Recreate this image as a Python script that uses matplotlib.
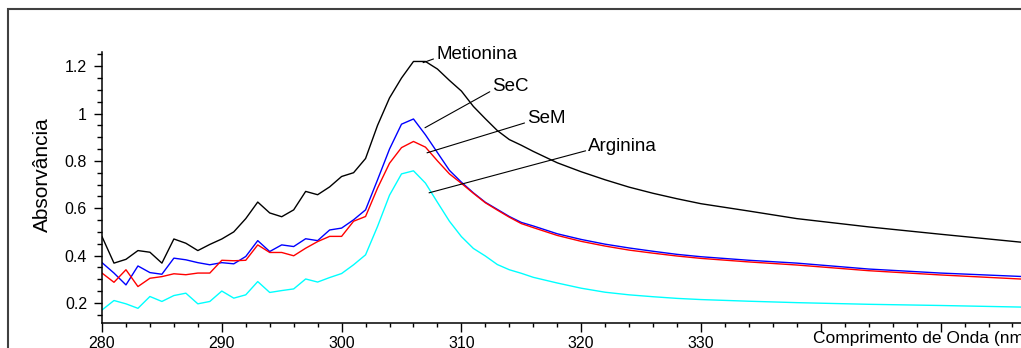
import matplotlib
matplotlib.use('Agg')
import matplotlib.pyplot as plt
from matplotlib.ticker import MultipleLocator, FuncFormatter
from matplotlib.patches import Rectangle

plt.rcParams['font.family'] = ['Liberation Sans', 'DejaVu Sans']

# wavelength (nm)
wl = [280, 281, 282, 283, 284, 285, 286, 287, 288, 289,
      290, 291, 292, 293, 294, 295, 296, 297, 298, 299,
      300, 301, 302, 303, 304, 305, 306, 307, 308, 309,
      310, 311, 312, 313, 314, 315, 316, 318, 320, 322,
      324, 326, 328, 330, 334, 338, 344, 350, 357]

metionina = [0.480, 0.368, 0.384, 0.421, 0.414, 0.368, 0.470, 0.452, 0.421, 0.447,
             0.470, 0.500, 0.556, 0.626, 0.580, 0.564, 0.593, 0.671, 0.657, 0.690,
             0.734, 0.750, 0.810, 0.950, 1.066, 1.150, 1.220, 1.220, 1.188, 1.140,
             1.095, 1.030, 0.978, 0.928, 0.890, 0.866, 0.840, 0.792, 0.754, 0.720,
             0.689, 0.663, 0.640, 0.619, 0.588, 0.556, 0.521, 0.490, 0.455]

sec = [0.370, 0.326, 0.276, 0.356, 0.328, 0.321, 0.389, 0.382, 0.370, 0.361,
       0.370, 0.365, 0.396, 0.463, 0.417, 0.445, 0.438, 0.471, 0.463, 0.508,
       0.516, 0.551, 0.593, 0.720, 0.850, 0.955, 0.977, 0.910, 0.835, 0.760,
       0.710, 0.665, 0.625, 0.595, 0.565, 0.540, 0.525, 0.492, 0.468, 0.448,
       0.432, 0.418, 0.405, 0.395, 0.380, 0.368, 0.343, 0.326, 0.311]

sem = [0.326, 0.287, 0.340, 0.269, 0.304, 0.311, 0.323, 0.319, 0.326, 0.326,
       0.380, 0.378, 0.380, 0.445, 0.413, 0.413, 0.399, 0.431, 0.459, 0.481,
       0.481, 0.545, 0.565, 0.685, 0.790, 0.856, 0.882, 0.858, 0.800, 0.745,
       0.705, 0.663, 0.623, 0.592, 0.562, 0.535, 0.518, 0.485, 0.460, 0.440,
       0.423, 0.410, 0.398, 0.388, 0.373, 0.360, 0.336, 0.318, 0.300]

arginina = [0.170, 0.210, 0.196, 0.177, 0.227, 0.206, 0.231, 0.241, 0.196, 0.206,
            0.250, 0.220, 0.234, 0.290, 0.244, 0.252, 0.259, 0.301, 0.288, 0.307,
            0.324, 0.361, 0.403, 0.523, 0.655, 0.745, 0.758, 0.706, 0.625, 0.545,
            0.480, 0.430, 0.398, 0.362, 0.340, 0.325, 0.308, 0.284, 0.262, 0.245,
            0.234, 0.226, 0.219, 0.214, 0.207, 0.201, 0.194, 0.189, 0.182]

W, H = 1021, 348
fig = plt.figure(figsize=(W / 100, H / 100), dpi=100)
fig.patch.set_facecolor('white')

# outer frame of the original screenshot
fig.patches.append(Rectangle((8 / W, -0.1), 1.2, 1 - 9 / H + 0.1,
                             transform=fig.transFigure, fill=False,
                             edgecolor='#404040', lw=1.5))

ax = fig.add_axes([102 / W, 25 / H, (W - 102) / W, (323 - 52) / H])

ax.plot(wl, metionina, color='#000000', lw=1.0)
ax.plot(wl, sec, color='#0000ff', lw=1.0)
ax.plot(wl, sem, color='#ff0000', lw=1.0)
ax.plot(wl, arginina, color='#00ffff', lw=1.0)

ax.set_xlim(280, 280 + (W - 102) / 11.98)
ax.set_ylim(0.115, 1.26)

for s in ['top', 'right']:
    ax.spines[s].set_visible(False)
for s in ['left', 'bottom']:
    ax.spines[s].set_linewidth(1.1)

ax.xaxis.set_major_locator(MultipleLocator(10))
ax.xaxis.set_minor_locator(MultipleLocator(2))
# the axis title hides the labels past 330
ax.xaxis.set_major_formatter(FuncFormatter(lambda v, p: '%d' % v if v < 335 else ''))
ax.yaxis.set_major_locator(MultipleLocator(0.2))
ax.yaxis.set_minor_locator(MultipleLocator(0.05))
ax.yaxis.set_major_formatter(FuncFormatter(lambda v, p: '%g' % round(v, 2)))
ax.tick_params(which='major', width=1, labelsize=11.5)
ax.tick_params(axis='x', which='major', length=6.5, pad=2.5)
ax.tick_params(axis='x', which='minor', length=3, width=1)
ax.tick_params(axis='y', which='major', length=5.8, pad=5)
ax.tick_params(axis='y', which='minor', length=3.5, width=1)

# labels for each curve
notes = [('Metionina', (306.8, 1.215), (307.9, 1.249)),
         ('SeC', (306.96, 0.94), (312.6, 1.113)),
         ('SeM', (307.13, 0.834), (315.5, 0.978)),
         ('Arginina', (307.3, 0.665), (320.6, 0.860))]
for name, pt, txt in notes:
    ax.annotate(name, xy=pt, xytext=txt, ha='left', va='center', fontsize=13.5,
                annotation_clip=False,
                arrowprops=dict(arrowstyle='-', color='black', lw=0.8,
                                shrinkA=0, shrinkB=0, relpos=(0, 0.3)))

fig.text(42 / W, 1 - 175 / H, 'Absorvância', rotation=90, ha='center',
         va='center', fontsize=15)
fig.text(813 / W, 1 - 339 / H, 'Comprimento de Onda (nm)', ha='left',
         va='center', fontsize=12.5)

fig.savefig('out.png', dpi=100)
